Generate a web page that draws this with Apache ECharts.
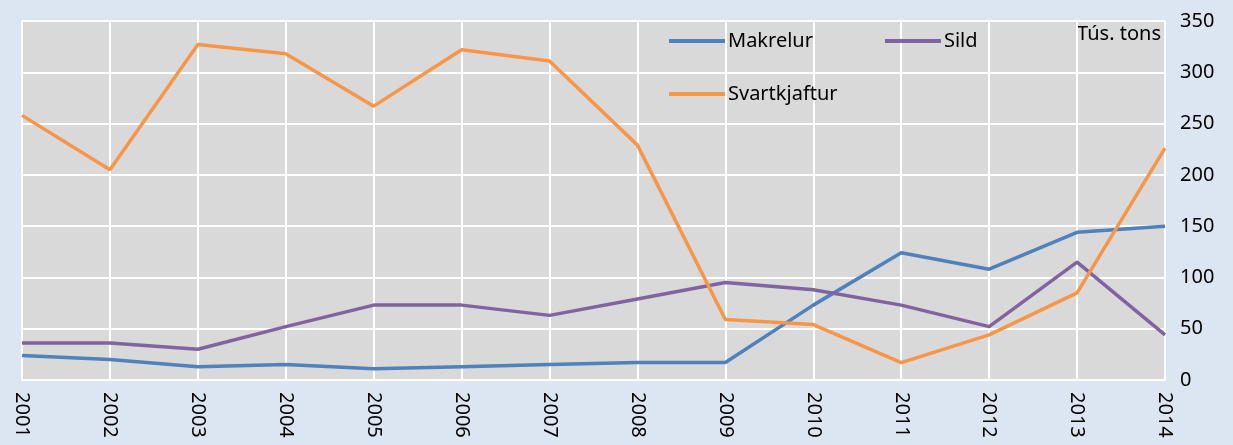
<!DOCTYPE html>
<html>
<head>
<meta charset="utf-8">
<script src="https://cdn.jsdelivr.net/npm/echarts@6/dist/echarts.min.js"></script>
<style>
  html, body { margin: 0; padding: 0; background: #dce6f2; }
  #chart { width: 1233px; height: 445px; }
</style>
</head>
<body>
<div id="chart"></div>
<script>
// ár
const years = ['2001', '2002', '2003', '2004', '2005', '2006', '2007',
  '2008', '2009', '2010', '2011', '2012', '2013', '2014'];
// tús. tons
const makrelur = [24, 20, 13, 15, 11, 13, 15, 17, 17, 73, 124, 108, 144, 150];
const sild = [36, 36, 30, 52, 73, 73, 63, 79, 95, 88, 73, 52, 115, 44];
const svartkjaftur = [258, 205, 327, 318, 267, 322, 311, 229, 59, 54, 17, 44, 85, 226];

const font = '"Noto Sans", sans-serif';
const chart = echarts.init(document.getElementById('chart'));

const legendText = { color: '#000', fontSize: 20, fontFamily: font, padding: [0, 0, 0, -2] };

const option = {
  backgroundColor: '#dce6f2',
  animation: false,
  grid: {
    left: 22,
    right: 68,
    top: 21,
    bottom: 65,
    show: true,
    backgroundColor: '#d9d9d9',
    borderWidth: 0,
  },
  legend: [
    {
      data: ['Makrelur', 'Sild'],
      left: 664,
      top: 26,
      itemWidth: 56,
      itemHeight: 4,
      itemGap: 72,
      icon: 'rect',
      textStyle: legendText,
    },
    {
      data: ['Svartkjaftur'],
      left: 664,
      top: 79,
      itemWidth: 56,
      itemHeight: 4,
      icon: 'rect',
      textStyle: legendText,
    },
  ],
  graphic: [
    {
      type: 'text',
      right: 72,
      top: 24,
      style: { text: 'Tús. tons', fill: '#000', fontSize: 20, fontFamily: font },
    },
  ],
  xAxis: {
    type: 'category',
    data: years,
    boundaryGap: false,
    axisLine: { show: true, lineStyle: { color: '#ffffff', width: 2 } },
    axisTick: { show: false },
    splitLine: { show: true, lineStyle: { color: '#ffffff', width: 2 } },
    axisLabel: {
      rotate: -90,
      margin: 12,
      color: '#000',
      fontSize: 20,
      fontFamily: font,
    },
  },
  yAxis: {
    type: 'value',
    position: 'right',
    min: 0,
    max: 350,
    interval: 50,
    axisLine: { show: false },
    axisTick: { show: false },
    splitLine: { lineStyle: { color: '#ffffff', width: 2 } },
    axisLabel: {
      margin: 15,
      color: '#000',
      fontSize: 20,
      fontFamily: font,
    },
  },
  series: [
    {
      name: 'Makrelur',
      type: 'line',
      data: makrelur,
      showSymbol: false,
      itemStyle: { color: '#4f81bd' },
      lineStyle: { color: '#4f81bd', width: 3.5 },
    },
    {
      name: 'Sild',
      type: 'line',
      data: sild,
      showSymbol: false,
      itemStyle: { color: '#8064a2' },
      lineStyle: { color: '#8064a2', width: 3.5 },
    },
    {
      name: 'Svartkjaftur',
      type: 'line',
      data: svartkjaftur,
      showSymbol: false,
      itemStyle: { color: '#f79646' },
      lineStyle: { color: '#f79646', width: 3.5 },
    },
  ],
};

chart.setOption(option);
</script>
</body>
</html>
